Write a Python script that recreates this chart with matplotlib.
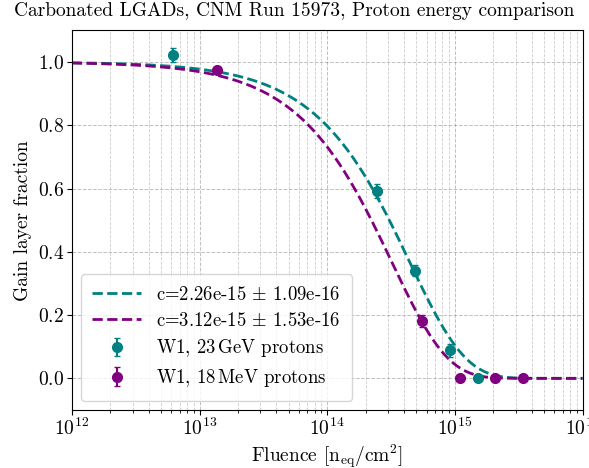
import numpy as np
import matplotlib
matplotlib.use("Agg")
import matplotlib.pyplot as plt

plt.rcParams['font.family'] = 'serif'
plt.rcParams['font.serif'] = ['cmr10']
plt.rcParams['mathtext.fontset'] = 'cm'
plt.rcParams['axes.formatter.use_mathtext'] = True

# 23 GeV protons
fl_gev = [6.2e12, 2.44e14, 4.9e14, 9.2e14, 1.52e15]
frac_gev = [1.021, 0.592, 0.340, 0.089, 0.0]
err_gev = [0.022, 0.022, 0.018, 0.02, 0.006]
c_gev, dc_gev = 2.26e-15, 1.09e-16

# 18 MeV protons
fl_mev = [1.38e13, 5.5e14, 1.1e15, 2.07e15, 3.44e15]
frac_mev = [0.975, 0.181, 0.0, 0.0, 0.0]
err_mev = [0.008, 0.018, 0.004, 0.004, 0.004]
c_mev, dc_mev = 3.12e-15, 1.53e-16

teal = '#008080'
purple = '#800080'

fig, ax = plt.subplots(figsize=(5.89, 4.68), dpi=100)

phi = np.logspace(12, 16, 400)
ax.plot(phi, np.exp(-c_gev * phi), '--', color=teal, lw=2,
        label=r'c=2.26e-15 $\pm$ 1.09e-16')
ax.plot(phi, np.exp(-c_mev * phi), '--', color=purple, lw=2,
        label=r'c=3.12e-15 $\pm$ 1.53e-16')
ax.errorbar(fl_gev, frac_gev, yerr=err_gev, fmt='o', color=teal, ms=7,
            capsize=2, label=r'W1, 23$\,$GeV protons')
ax.errorbar(fl_mev, frac_mev, yerr=err_mev, fmt='o', color=purple, ms=7,
            capsize=2, label=r'W1, 18$\,$MeV protons')

ax.set_xscale('log')
ax.set_xlim(1e12, 1e16)
ax.set_ylim(-0.1, 1.1)
ax.set_yticks([0.0, 0.2, 0.4, 0.6, 0.8, 1.0])
ax.grid(True, which='major', ls='--', color='gray', alpha=0.5, lw=0.7)
ax.grid(True, which='minor', axis='x', ls='--', color='gray', alpha=0.4, lw=0.6)
ax.tick_params(labelsize=14, pad=2)

ax.set_xlabel(r'Fluence [n$_{\rm eq}$/cm$^2$]', fontsize=14, labelpad=2)
ax.set_ylabel('Gain layer fraction', fontsize=14)
fig.suptitle('Carbonated LGADs, CNM Run 15973, Proton energy comparison',
             fontsize=14, x=0.5, y=0.995)
ax.legend(loc='lower left', fontsize=13.5, handlelength=2.6, labelspacing=0.42,
          borderpad=0.6)

fig.subplots_adjust(left=0.122, right=0.989, top=0.935, bottom=0.124)
fig.savefig('out.png', dpi=100)
